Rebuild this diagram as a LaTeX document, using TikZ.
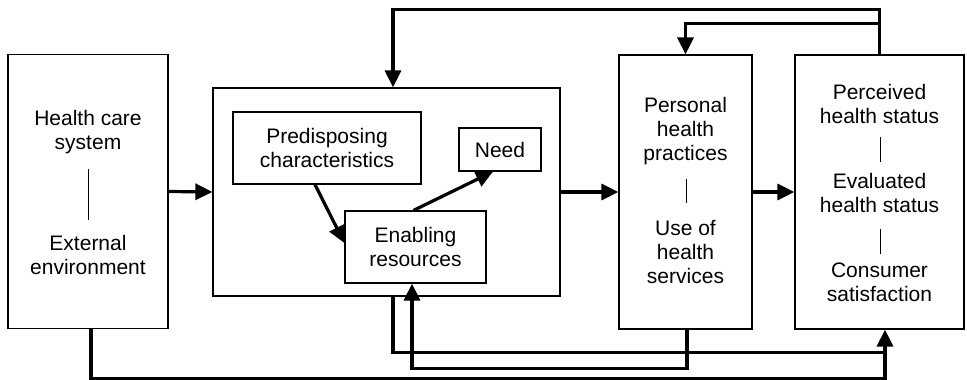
\documentclass[tikz,border=0pt]{standalone}
\usepackage{fontspec}
\setmainfont{Liberation Sans}
\usetikzlibrary{arrows.meta,calc}
\begin{document}
\begin{tikzpicture}[x=1pt,y=-1pt,
  box/.style={draw, line width=1.2pt, inner sep=0pt},
  txt/.style={align=center, inner sep=0pt, font=\fontsize{21}{24}\selectfont},
  divider/.style={line width=1pt},
  flow/.style={line width=3.2pt},
  arr/.style={flow, -{Triangle[length=17pt,width=16pt]}}]
\useasboundingbox (0,0) rectangle (967,380);
% outer boxes
\node[box, minimum width=160pt, minimum height=274pt] (A) at (88,191.5) {};
\node[box, minimum width=347pt, minimum height=208pt] (B) at (386.5,192) {};
\node[box, minimum width=133pt, minimum height=274pt] (C) at (685.5,192) {};
\node[box, minimum width=169pt, minimum height=274pt] (D) at (879.5,192) {};
% inner boxes
\node[box, minimum width=188pt, minimum height=72pt, txt] (P) at (327,148) {Predisposing\\characteristics};
\node[box, minimum width=82pt, minimum height=43pt, txt] (N) at (500,149.5) {Need};
\node[box, minimum width=141pt, minimum height=72pt, txt] (E) at (415.5,247) {Enabling\\resources};
% texts in A
\node[txt] (A1) at (88,132) {Health care\\system};
\node[txt] (A2) at (88,255) {External\\environment};
\draw[divider] (88,169) -- (88,220);
% texts in C
\node[txt] (C1) at (685.5,131) {Personal\\health\\practices};
\node[txt] (C2) at (685.5,252) {Use of\\health\\services};
\draw[divider] (686,179) -- (686,203);
% texts in D
\node[txt] (D1) at (879.5,104) {Perceived\\health status};
\node[txt] (D2) at (879.5,193) {Evaluated\\health status};
\node[txt] (D3) at (879.5,282) {Consumer\\satisfaction};
\draw[divider] (880,137) -- (880,162);
\draw[divider] (880,229) -- (880,254);
% main flow
\draw[arr] (A.east) -- (B.west);
\draw[arr] (B.east) -- (C.west);
\draw[arr] (C.east) -- (D.west);
% inner arrows
\draw[arr] ([xshift=-12pt]P.south) -- ([yshift=4pt]E.west);
\draw[arr] ([xshift=-2pt]E.north) -- ([xshift=-7pt]N.south);
% top feedback
\draw[arr] (D.north) -- ++(0,-45) -| ([xshift=6.5pt]B.north);
\draw[arr] ([yshift=31pt]D.north) -| (C.north);
% bottom feedback
\coordinate (jn) at ([xshift=5.5pt,yshift=-23pt]D.south);
\draw[arr] ([xshift=3pt]A.south) -- ++(0,49) -| ([xshift=5.5pt]D.south);
\draw[flow] ([xshift=6.5pt]B.south) -- ++(0,56) -- (jn);
\draw[arr] ([xshift=1.5pt]C.south) -- ++(0,39) -| ([xshift=-3.5pt]E.south);
\end{tikzpicture}
\end{document}
